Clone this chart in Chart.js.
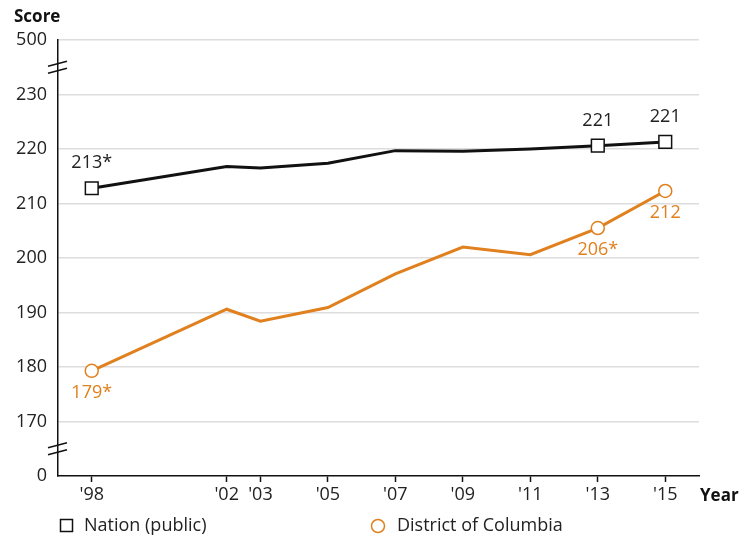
<!DOCTYPE html>
<html>
<head>
<meta charset="utf-8">
<script src="https://cdn.jsdelivr.net/npm/chart.js@4.4.1/dist/chart.umd.min.js"></script>
<style>
  html, body { margin: 0; padding: 0; background: #fff; }
  #wrap { width: 751px; height: 540px; position: relative; }
</style>
</head>
<body>
<div id="wrap"><canvas id="scoreChart" width="751" height="540"></canvas></div>
<script>
// Chart data
const years = [1998, 2002, 2003, 2005, 2007, 2009, 2011, 2013, 2015];
const nationScores = [212.8, 216.8, 216.5, 217.4, 219.7, 219.6, 220.0, 220.6, 221.3];
const dcScores = [179.3, 190.6, 188.4, 190.9, 197.1, 202.0, 200.6, 205.5, 212.3];
const nationLabels = ['213*', null, null, null, null, null, null, '221', '221'];
const dcLabels = ['179*', null, null, null, null, null, null, '206*', '212'];
const seriesNames = ['Nation (public)', 'District of Columbia'];
// broken axis: 160 shows as 0 and 240 shows as 500
const yTickLabels = { 160: '0', 170: '170', 180: '180', 190: '190', 200: '200', 210: '210', 220: '220', 230: '230', 240: '500' };

const ORANGE = '#e0801e';
const FONT = '"Open Sans", "Noto Sans", sans-serif';

const nationPoints = years.map((y, i) => ({ x: y, y: nationScores[i] }));
const dcPoints = years.map((y, i) => ({ x: y, y: dcScores[i] }));
// markers only where there is a label
const markerSize = (labels, r) => labels.map(l => (l ? r : 0));

// draws value labels, axis breaks, axis titles and the legend
const extrasPlugin = {
    id: 'extras',
    afterDatasetsDraw(chart) {
        const ctx = chart.ctx;
        const { left } = chart.chartArea;
        const yScale = chart.scales.y;
        ctx.save();

        // value labels
        ctx.font = '18px ' + FONT;
        ctx.textAlign = 'center';
        ctx.textBaseline = 'middle';
        const labelSets = [[nationLabels, -25, '#222'], [dcLabels, 22, ORANGE]];
        labelSets.forEach(([labels, offset, color], di) => {
            const meta = chart.getDatasetMeta(di);
            ctx.fillStyle = color;
            labels.forEach((txt, i) => {
                if (!txt) return;
                const pt = meta.data[i];
                ctx.fillText(txt, pt.x, pt.y + offset);
            });
        });

        // axis break marks
        ctx.strokeStyle = '#111';
        ctx.lineWidth = 1.5;
        [235, 165].forEach(v => {
            const yc = yScale.getPixelForValue(v);
            [-3.5, 3.5].forEach(d => {
                ctx.beginPath();
                ctx.moveTo(left - 10, yc + d + 2.5);
                ctx.lineTo(left + 9, yc + d - 2.5);
                ctx.stroke();
            });
        });

        // axis titles
        ctx.fillStyle = '#111';
        ctx.font = 'bold 17px ' + FONT;
        ctx.textAlign = 'left';
        ctx.fillText('Score', 14, 17);
        ctx.fillText('Year', 700, 496);

        // legend
        const ly = 526;
        ctx.font = '18px ' + FONT;
        ctx.fillStyle = '#222';
        ctx.fillText(seriesNames[0], 84, ly);
        ctx.fillText(seriesNames[1], 397, ly);
        ctx.lineWidth = 1.5;
        ctx.strokeStyle = '#111';
        ctx.strokeRect(60.5, ly - 6.5, 12, 12);
        ctx.strokeStyle = ORANGE;
        ctx.beginPath();
        ctx.arc(378, ly, 6.5, 0, Math.PI * 2);
        ctx.stroke();

        ctx.restore();
    }
};

new Chart(document.getElementById('scoreChart').getContext('2d'), {
    type: 'line',
    data: {
        datasets: [{
            label: seriesNames[0],
            data: nationPoints,
            borderColor: '#111',
            borderWidth: 3,
            pointStyle: 'rect',
            pointRadius: markerSize(nationLabels, 9),
            pointBackgroundColor: '#fff',
            pointBorderColor: '#111',
            pointBorderWidth: 1.5,
            tension: 0
        }, {
            label: seriesNames[1],
            data: dcPoints,
            borderColor: ORANGE,
            borderWidth: 3,
            pointStyle: 'circle',
            pointRadius: markerSize(dcLabels, 6.5),
            pointBackgroundColor: '#fff',
            pointBorderColor: ORANGE,
            pointBorderWidth: 1.5,
            tension: 0
        }]
    },
    options: {
        responsive: false,
        animation: false,
        layout: { padding: { top: 40, right: 52, left: 0, bottom: 0 } },
        plugins: {
            legend: { display: false },
            tooltip: { enabled: false }
        },
        scales: {
            x: {
                type: 'linear',
                min: 1997,
                max: 2016,
                afterBuildTicks: scale => { scale.ticks = years.map(v => ({ value: v })); },
                afterFit: scale => { scale.height = 64; },
                border: { color: '#111', width: 1.5 },
                grid: { drawOnChartArea: false, drawTicks: true, tickLength: 6, tickColor: '#111', tickWidth: 1.5 },
                ticks: {
                    autoSkip: false,
                    maxRotation: 0,
                    padding: 2,
                    color: '#222',
                    font: { family: FONT, size: 18 },
                    callback: v => "'" + String(v).slice(2)
                }
            },
            y: {
                min: 160,
                max: 240,
                afterFit: scale => { scale.width = 58; },
                border: { color: '#111', width: 1.5 },
                grid: {
                    drawTicks: false,
                    color: ctx => (ctx.tick && ctx.tick.value === 160 ? 'rgba(0,0,0,0)' : '#dddddd'),
                    lineWidth: 1.5
                },
                ticks: {
                    stepSize: 10,
                    padding: 11,
                    color: '#222',
                    font: { family: FONT, size: 18 },
                    callback: v => yTickLabels[v]
                }
            }
        }
    },
    plugins: [extrasPlugin]
});
</script>
</body>
</html>
